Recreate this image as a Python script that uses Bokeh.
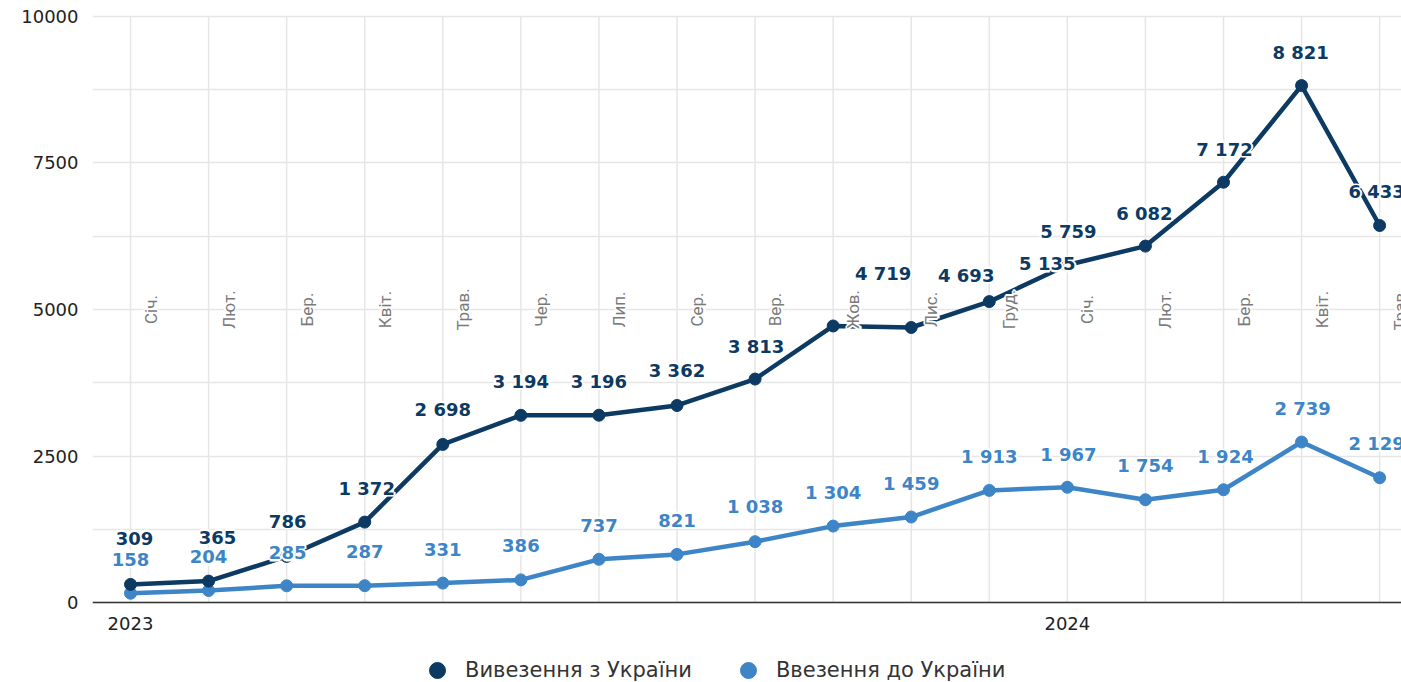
import math
from bokeh.plotting import figure
from bokeh.models import FixedTicker, Legend, LegendItem, ColumnDataSource, Range1d, Span
from bokeh.core.properties import value
from bokeh.embed import file_html
from bokeh.resources import INLINE

# ---- data ----
months = ["Січ.", "Лют.", "Бер.", "Квіт.", "Трав.", "Чер.", "Лип.", "Сер.", "Вер.",
          "Жов.", "Лис.", "Груд.", "Січ.", "Лют.", "Бер.", "Квіт.", "Трав."]
years = ["2023", "2024"]
export_vals = [309, 365, 786, 1372, 2698, 3194, 3196, 3362, 3813, 4719, 4693,
               5135, 5759, 6082, 7172, 8821, 6433]
import_vals = [158, 204, 285, 287, 331, 386, 737, 821, 1038, 1304, 1459,
               1913, 1967, 1754, 1924, 2739, 2129]
series_names = ["Вивезення з України", "Ввезення до України"]
y_ticks = [0, 2500, 5000, 7500, 10000]

# ---- styling (label nudges in screen px) ----
export_dx = [4, 9, 1, 2, 0, 0, 0, 0, 1, 50, 55, 58, 1, -1, 1, -1, -3]
export_dy = [-46, -44, -35, -34, -35, -34, -34, -35, -33, -52, -52, -38, -34, -33, -33, -33, -34]
import_dx = [0, 0, 1, 0, 0, 0, 0, 0, 0, 0, 0, 0, 1, 0, 2, 1, -3]
import_dy = [-34, -34, -33, -34, -34, -34, -34, -34, -35, -34, -34, -34, -33, -34, -33, -33, -34]

DARK = "#0c3a63"
LIGHT = "#3d85c6"
GRID = "#e6e6e6"
FONT = "DejaVu Sans"
HALO_SHIFTS = [(-1.5, 0), (1.5, 0), (0, -1.5), (0, 1.5), (0, 0)]

def fmt(v):
    return f"{v:,}".replace(",", " ")

idx = list(range(len(months)))
year_ticks = [i for i, m in enumerate(months) if m == "Січ."]
ymax = y_ticks[-1]

p = figure(width=1401, height=682,
           x_range=Range1d(-0.487, 16.28), y_range=Range1d(-1365, 10034),
           output_backend="svg", toolbar_location=None,
           min_border_left=92, min_border_right=0, min_border_top=14, min_border_bottom=0)
p.outline_line_color = None
p.background_fill_color = "white"

# grids
p.xgrid.visible = False
p.ygrid.ticker = FixedTicker(ticks=[t * 1250 for t in range(9)])
p.ygrid.grid_line_color = GRID
p.ygrid.grid_line_width = 1.5
p.segment(x0=idx, y0=[y_ticks[0]] * len(idx), x1=idx, y1=[ymax] * len(idx),
          line_color=GRID, line_width=1.5)

# axes
p.yaxis.ticker = FixedTicker(ticks=y_ticks)
p.yaxis.axis_line_color = None
p.yaxis.major_tick_line_color = None
p.yaxis.minor_tick_line_color = None
p.yaxis.major_label_standoff = 8
p.yaxis.major_label_text_font = FONT
p.yaxis.major_label_text_font_size = "18px"
p.yaxis.major_label_text_color = "#222222"
p.xaxis.visible = False

p.add_layout(Span(location=y_ticks[0], dimension="width", line_color="#333333", line_width=1.5))
p.text(x=year_ticks, y=[y_ticks[0]] * len(year_ticks), text=years, y_offset=21,
       text_align="center", text_baseline="middle",
       text_font=value(FONT), text_font_size="18px", text_color="#222222")

# series
src_imp = ColumnDataSource(dict(x=idx, y=import_vals, t=[fmt(v) for v in import_vals],
                                dx=import_dx, dy=import_dy))
src_exp = ColumnDataSource(dict(x=idx, y=export_vals, t=[fmt(v) for v in export_vals],
                                dx=export_dx, dy=export_dy))
for src in (src_imp, src_exp):
    for k, (ox, oy) in enumerate(HALO_SHIFTS):
        src.data[f"hx{k}"] = [d + ox for d in src.data["dx"]]
        src.data[f"hy{k}"] = [d + oy for d in src.data["dy"]]

p.line("x", "y", source=src_imp, line_color=LIGHT, line_width=4.5)
r_imp = p.scatter("x", "y", source=src_imp, size=12, color=LIGHT)
p.line("x", "y", source=src_exp, line_color=DARK, line_width=4.5)
r_exp = p.scatter("x", "y", source=src_exp, size=12, color=DARK)

# month labels (white halo, then text)
mkw = dict(x=idx, y=[5000] * len(idx), text=months, angle=math.pi / 2,
           text_align="center", text_baseline="middle",
           text_font=value("Roboto"), text_font_size="17px")
for ox, oy in HALO_SHIFTS:
    p.text(text_color="white", text_outline_color="white", x_offset=20 + ox, y_offset=oy, **mkw)
p.text(text_color="#7a7a7a", x_offset=20, **mkw)

# value labels (white halo, then text)
lkw = dict(x="x", y="y", text="t", text_align="center", text_baseline="middle",
           text_font=value(FONT), text_font_style="bold", text_font_size="18px")
for src in (src_imp, src_exp):
    for k in range(len(HALO_SHIFTS)):
        p.text(source=src, x_offset=f"hx{k}", y_offset=f"hy{k}",
               text_color="white", text_outline_color="white", **lkw)
for src, col in ((src_imp, LIGHT), (src_exp, DARK)):
    p.text(source=src, x_offset="dx", y_offset="dy", text_color=col, **lkw)

legend = Legend(items=[LegendItem(label=series_names[0], renderers=[r_exp]),
                       LegendItem(label=series_names[1], renderers=[r_imp])],
                location=(325, -8), orientation="horizontal",
                glyph_width=40, glyph_height=40, label_standoff=8, spacing=36,
                padding=0, margin=0, border_line_color=None, background_fill_alpha=0,
                label_text_font=FONT, label_text_font_size="21px", label_text_color="#333333")
p.add_layout(legend)

open("out.html", "w").write(file_html(p, INLINE))
